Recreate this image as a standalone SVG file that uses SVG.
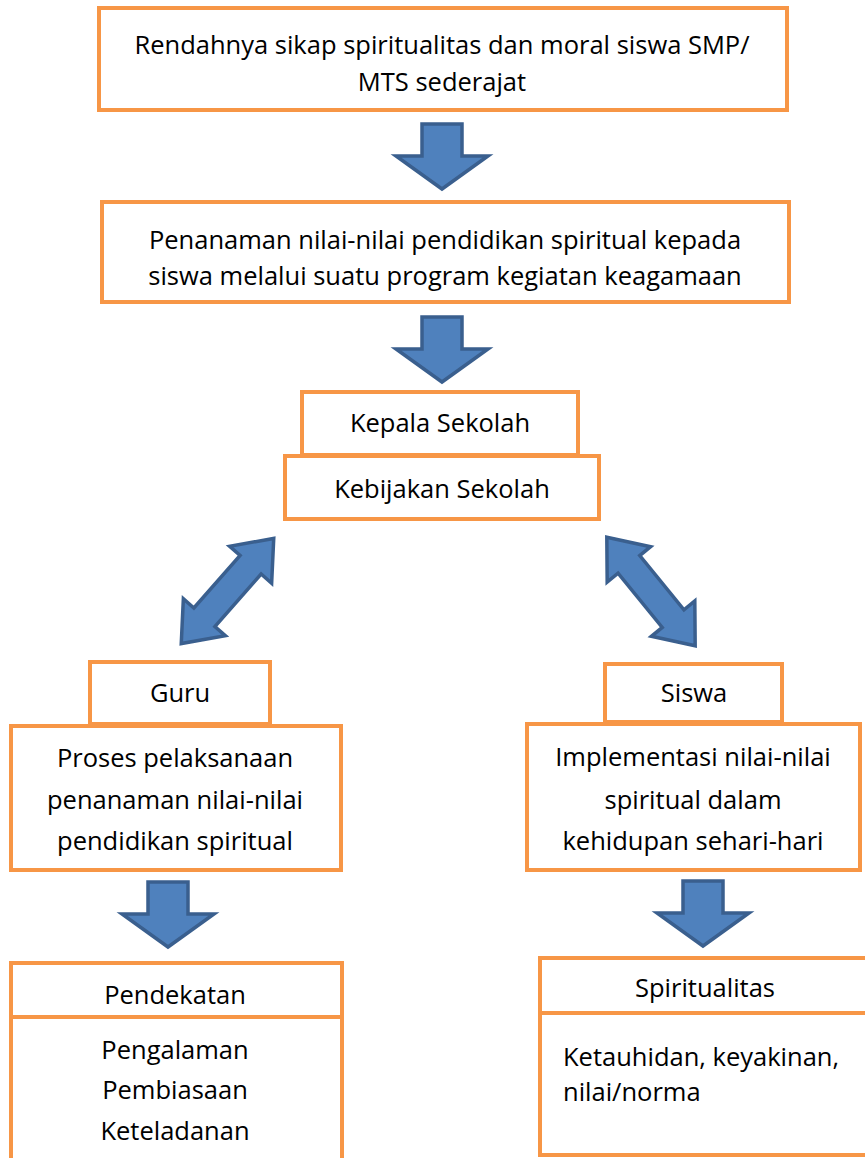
<svg xmlns="http://www.w3.org/2000/svg" xmlns:xlink="http://www.w3.org/1999/xlink" width="865" height="1158" viewBox="0 0 865 1158">
<style>
.box{fill:#fff;stroke:#F79646;stroke-width:4}
.arr{fill:#4F81BD;stroke:#3A5F8E;stroke-width:3.5;stroke-linejoin:miter}
text{font-family:"Open Sans","Liberation Sans",sans-serif;font-size:25.5px;fill:#000}
.c{text-anchor:middle}
</style>
<defs>
<polygon id="down" points="-20,-65 20,-65 20,-33 46,-33 0,0 -46,-33 -20,-33"/>
<polygon id="dbl" points="-70,0 -35,-28 -35,-14 35,-14 35,-28 70,0 35,28 35,14 -35,14 -35,28"/>
</defs>
<rect width="865" height="1158" fill="#fff"/>
<g id="connectors">
<use xlink:href="#down" class="arr" transform="translate(442,189)"/>
<use xlink:href="#down" class="arr" transform="translate(442,382)"/>
<use xlink:href="#dbl" class="arr" transform="translate(227.5,591) rotate(-48.66)"/>
<use xlink:href="#dbl" class="arr" transform="translate(651,591.5) rotate(50.85)"/>
<use xlink:href="#down" class="arr" transform="translate(168,947)"/>
<use xlink:href="#down" class="arr" transform="translate(703,946)"/>
</g>
<g id="n1">
<rect class="box" x="99" y="8" width="688" height="102"/>
<text class="c" x="442" y="54">Rendahnya sikap spiritualitas dan moral siswa SMP/</text>
<text class="c" x="442" y="91">MTS sederajat</text>
</g>
<g id="n2">
<rect class="box" x="102" y="202" width="687" height="100"/>
<text class="c" x="445" y="249">Penanaman nilai-nilai pendidikan spiritual kepada</text>
<text class="c" x="445" y="285">siswa melalui suatu program kegiatan keagamaan</text>
</g>
<g id="n3">
<rect class="box" x="302" y="392" width="276" height="63"/>
<text class="c" x="440" y="432">Kepala Sekolah</text>
</g>
<g id="n4">
<rect class="box" x="285" y="456" width="314" height="63"/>
<text class="c" x="442" y="498">Kebijakan Sekolah</text>
</g>
<g id="n5">
<rect class="box" x="90" y="662" width="180" height="62"/>
<text class="c" x="180" y="702">Guru</text>
</g>
<g id="n6">
<rect class="box" x="11" y="726" width="330" height="144"/>
<text class="c" x="175" y="767">Proses pelaksanaan</text>
<text class="c" x="175" y="809">penanaman nilai-nilai</text>
<text class="c" x="175" y="850">pendidikan spiritual</text>
</g>
<g id="n7">
<rect class="box" x="605" y="664" width="177" height="58"/>
<text class="c" x="694" y="702">Siswa</text>
</g>
<g id="n8">
<rect class="box" x="527" y="724" width="333" height="146"/>
<text class="c" x="693" y="766">Implementasi nilai-nilai</text>
<text class="c" x="693" y="809">spiritual dalam</text>
<text class="c" x="693" y="850">kehidupan sehari-hari</text>
</g>
<g id="n9">
<rect class="box" x="11" y="963" width="331" height="54"/>
<rect class="box" x="11" y="1017" width="331" height="160"/>
<text class="c" x="175" y="1004">Pendekatan</text>
<text class="c" x="175" y="1059">Pengalaman</text>
<text class="c" x="175" y="1099">Pembiasaan</text>
<text class="c" x="175" y="1140">Keteladanan</text>
</g>
<g id="n10">
<rect class="box" x="540" y="958" width="330" height="55"/>
<rect class="box" x="540" y="1013" width="330" height="142"/>
<text class="c" x="705" y="997">Spiritualitas</text>
<text x="563" y="1066">Ketauhidan, keyakinan,</text>
<text x="563" y="1101">nilai/norma</text>
</g>
</svg>
